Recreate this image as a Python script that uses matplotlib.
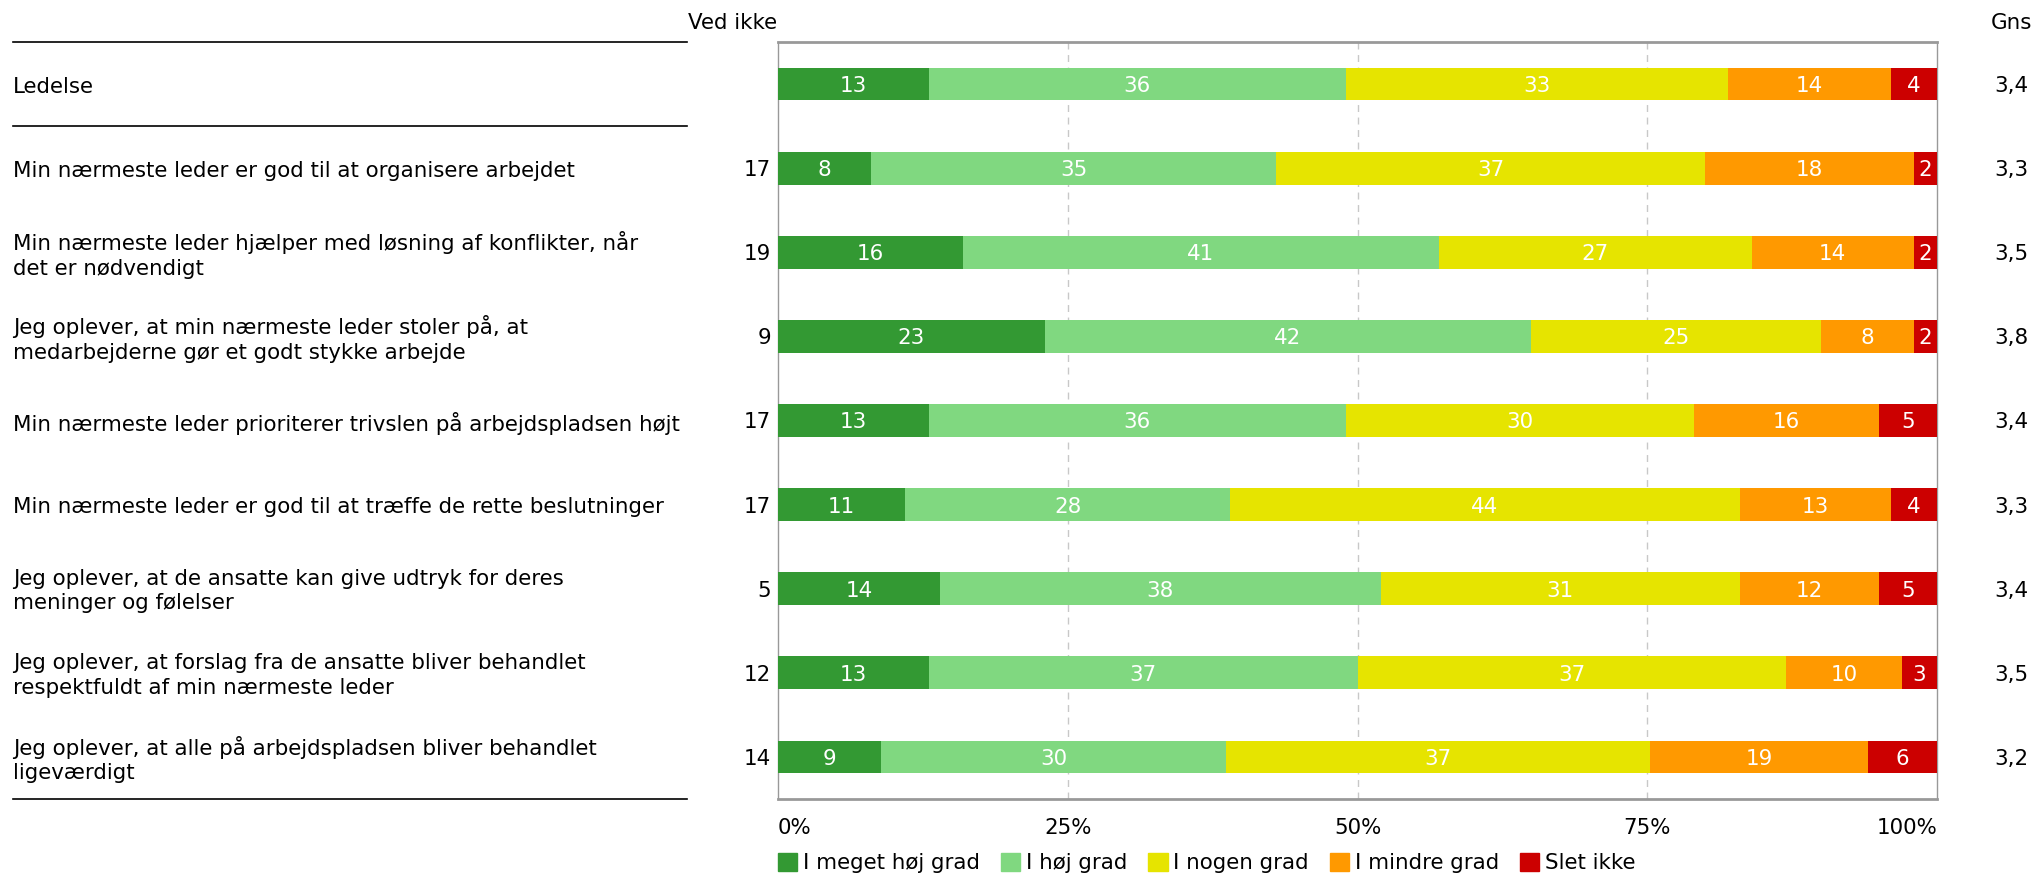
import numpy as np
import matplotlib
matplotlib.use("Agg")
import matplotlib.pyplot as plt
from matplotlib.transforms import blended_transform_factory
from matplotlib.patches import Patch

plt.rcParams['font.family'] = ['DejaVu Sans']
fs = 15.4

# data
labels = [
    "Ledelse",
    "Min nærmeste leder er god til at organisere arbejdet",
    "Min nærmeste leder hjælper med løsning af konflikter, når\ndet er nødvendigt",
    "Jeg oplever, at min nærmeste leder stoler på, at\nmedarbejderne gør et godt stykke arbejde",
    "Min nærmeste leder prioriterer trivslen på arbejdspladsen højt",
    "Min nærmeste leder er god til at træffe de rette beslutninger",
    "Jeg oplever, at de ansatte kan give udtryk for deres\nmeninger og følelser",
    "Jeg oplever, at forslag fra de ansatte bliver behandlet\nrespektfuldt af min nærmeste leder",
    "Jeg oplever, at alle på arbejdspladsen bliver behandlet\nligeværdigt",
]
ved_ikke = ["", "17", "19", "9", "17", "17", "5", "12", "14"]
gns = ["3,4", "3,3", "3,5", "3,8", "3,4", "3,3", "3,4", "3,5", "3,2"]
meget_hoej = [13, 8, 16, 23, 13, 11, 14, 13, 9]
hoej = [36, 35, 41, 42, 36, 28, 38, 37, 30]
nogen = [33, 37, 27, 25, 30, 44, 31, 37, 37]
mindre = [14, 18, 14, 8, 16, 13, 12, 10, 19]
slet_ikke = [4, 2, 2, 2, 5, 4, 5, 3, 6]
series_names = ["I meget høj grad", "I høj grad", "I nogen grad", "I mindre grad", "Slet ikke"]
colors = ["#339933", "#80d880", "#e6e400", "#ff9900", "#cc0000"]
xticks = [0, 25, 50, 75, 100]

W, H = 2034, 875
fig = plt.figure(figsize=(W / 100, H / 100), dpi=100)
ax = fig.add_axes([778 / W, 1 - 799 / H, (1937 - 778) / W, (799 - 42) / H])

vals = np.array([meget_hoej, hoej, nogen, mindre, slet_ikke], dtype=float)
pct = vals / vals.sum(axis=0) * 100
y = np.arange(len(labels))
left = np.zeros(len(labels))
for i in range(len(series_names)):
    ax.barh(y, pct[i], left=left, height=0.39, color=colors[i], zorder=3)
    for j in range(len(labels)):
        ax.text(left[j] + pct[i][j] / 2, y[j], str(int(vals[i][j])), ha='center', va='center_baseline',
                color='white', fontsize=fs, zorder=4)
    left += pct[i]

ax.set_xlim(0, 100)
ax.set_ylim(len(labels) - 0.5, -0.5)
ax.set_yticks([])
ax.set_xticks(xticks)
ax.set_xticklabels([f"{t}%" for t in xticks], fontsize=fs)
tl = ax.get_xticklabels()
tl[0].set_ha('left')
tl[-1].set_ha('right')
ax.tick_params(axis='x', length=0, pad=14)
for x in xticks[1:-1]:
    ax.axvline(x, color='#c8c8c8', linestyle=(0, (5, 4)), linewidth=1, zorder=1)
for s in ['left', 'right']:
    ax.spines[s].set_color('#999999')
    ax.spines[s].set_linewidth(1)
for s in ['top', 'bottom']:
    ax.spines[s].set_color('#999999')
    ax.spines[s].set_linewidth(2)

tr = blended_transform_factory(fig.transFigure, ax.transData)
for j, lab in enumerate(labels):
    ax.text(13 / W, y[j] + 0.03, lab, transform=tr, ha='left', va='center', fontsize=fs, linespacing=1.28)
    ax.text(771 / W, y[j], ved_ikke[j], transform=tr, ha='right', va='center_baseline', fontsize=fs)
    ax.text(2011 / W, y[j], gns[j], transform=tr, ha='center', va='center_baseline', fontsize=fs)

for yy in [-0.5, 0.5, len(labels) - 0.5]:
    ax.plot([13 / W, 687 / W], [yy, yy], transform=tr, color='black', linewidth=1.2, clip_on=False)

fig.text(777 / W, 1 - 23 / H, "Ved ikke", ha='right', va='center', fontsize=fs)
fig.text(2011 / W, 1 - 23 / H, "Gns", ha='center', va='center', fontsize=fs)

handles = [Patch(color=c) for c in colors]
fig.legend(handles, series_names, loc='center left', bbox_to_anchor=(778 / W, 1 - 863 / H),
           ncol=5, frameon=False, fontsize=fs, handlelength=0.9, handleheight=0.9,
           handletextpad=0.25, columnspacing=1.0, borderaxespad=0, borderpad=0)

fig.savefig("out.png", dpi=100)
